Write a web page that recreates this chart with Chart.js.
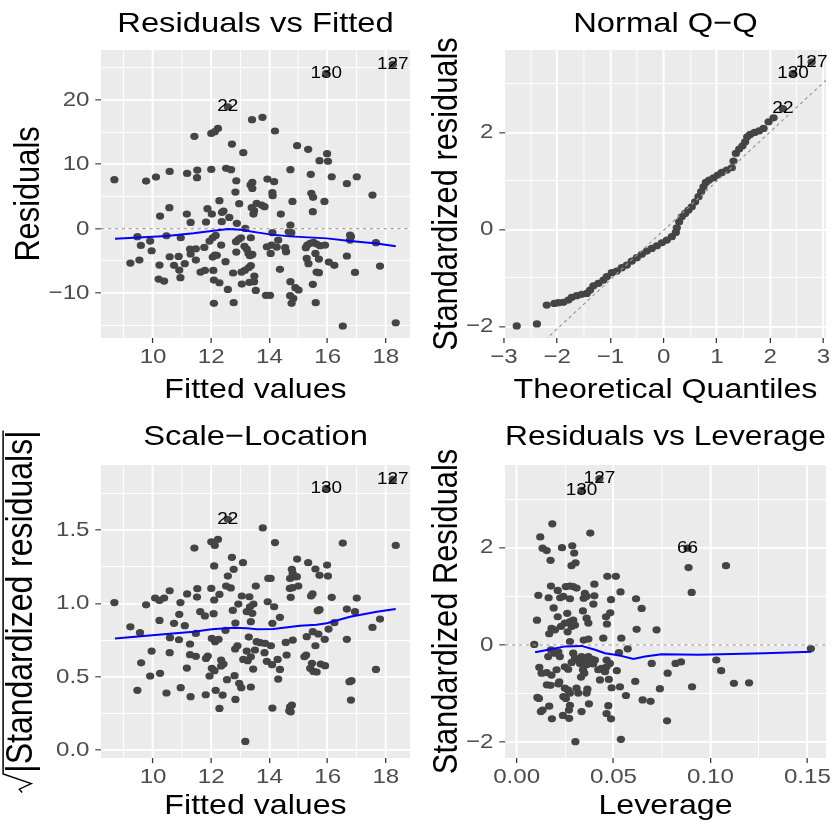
<!DOCTYPE html>
<html>
<head>
<meta charset="utf-8">
<title>Regression diagnostics</title>
<script src="https://cdn.jsdelivr.net/npm/chart.js@4.4.1/dist/chart.umd.min.js"></script>
<style>
  body { margin: 0; background: #fff; }
  #wrap { position: relative; width: 836px; height: 825px; overflow: hidden; }
  canvas { position: absolute; }
</style>
</head>
<body>
<div id="wrap">
  <canvas id="rvf" style="left:0;top:0"></canvas>
  <canvas id="qq" style="left:418px;top:0"></canvas>
  <canvas id="sl" style="left:0;top:412px"></canvas>
  <canvas id="rvl" style="left:418px;top:412px"></canvas>
</div>
<script>
// ---- data ----
// Residuals vs Fitted: [fitted, residual]
const rvfPoints = [
  [8.67,7.61],[9.76,7.40],[10.10,8.02],[10.57,8.90],[11.17,8.59],[11.52,9.11],[11.51,7.92],[12.00,9.21],[12.51,9.37],[12.68,9.16],
  [11.42,14.34],[12.00,14.80],[12.12,15.06],[12.23,15.58],[12.71,13.15],[13.10,11.80],[13.40,16.93],[12.86,7.45],[13.41,7.19],[13.35,6.80],
  [13.41,6.26],[12.83,5.69],[12.96,3.88],[12.28,4.35],[12.42,2.74],[12.37,2.54],[11.87,3.11],[12.02,2.28],[11.16,2.28],[11.29,0.98],
  [11.82,1.04],[10.56,3.26],[10.24,1.97],[12.36,1.09],[12.62,1.76],[12.88,0.83],[13.39,3.27],[13.47,2.80],[13.45,2.28],[13.17,0.05],
  [9.46,-1.24],[9.58,-2.59],[9.90,-1.92],[9.95,-3.42],[9.22,-5.33],[9.53,-4.87],[10.46,-1.09],[10.22,-5.64],[10.57,-4.35],[10.72,-5.69],
  [10.88,-4.30],[10.90,-6.42],[10.94,-7.61],[10.19,-7.82],[10.38,-8.13],[11.09,-5.43],[11.27,-3.16],[11.29,-3.93],[11.47,-3.11],[11.47,-4.87],
  [10.95,-1.40],[11.63,-6.73],[11.78,-6.47],[11.76,-2.90],[11.94,-1.92],[12.05,-1.40],[12.15,-1.04],[12.05,-4.40],[12.19,-4.14],[12.12,-4.09],
  [12.07,-6.47],[12.09,-7.97],[12.28,-8.39],[12.49,-5.12],[12.34,-2.54],[12.09,-11.59],[12.57,-9.42],[12.77,-11.49],[12.75,-6.88],[12.85,-2.02],
  [12.94,-1.66],[13.02,-1.40],[12.86,-3.62],[13.05,-8.59],[13.31,-8.33],[13.36,-1.40],[13.14,-2.74],[13.22,-3.16],[13.28,-3.83],[13.33,-4.19],
  [13.41,-3.99],[13.04,-6.73],[13.15,-6.47],[13.28,-6.06],[13.36,-5.74],[13.53,-9.58],[13.48,-7.35],
  [13.76,17.29],[14.19,15.17],[14.95,12.89],[15.33,12.32],[15.98,11.65],[15.72,10.56],[16.01,10.46],[14.72,9.16],[15.42,8.44],[16.14,8.07],
  [16.66,6.99],[17.00,8.07],[17.54,5.23],[13.93,7.71],[14.16,7.30],[14.10,5.59],[14.11,5.12],[14.79,4.24],[15.44,5.49],[15.50,4.87],
  [15.89,4.24],[15.49,2.64],[14.39,2.28],[13.56,3.93],[13.73,3.67],[13.83,3.42],[14.72,0.57],[14.66,-0.47],
  [14.75,-0.62],[14.10,-0.62],[14.30,-1.76],[13.91,-2.80],[14.07,-2.54],[14.25,-2.85],[14.04,-3.83],[14.54,-2.95],[14.57,-3.57],[14.36,-6.31],
  [13.47,-8.23],[13.88,-10.35],[14.02,-10.35],[14.72,-8.23],[14.89,-9.16],[15.00,-9.52],[14.71,-10.40],[14.76,-11.59],
  [14.82,-10.82],[15.25,-2.95],[15.30,-2.54],[15.40,-2.28],[15.51,-2.12],[15.62,-2.38],[15.74,-2.64],[15.91,-2.54],[15.28,-4.61],[15.34,-5.43],
  [15.58,-3.83],[15.70,-4.71],[15.62,-6.73],[15.70,-6.83],[15.49,-8.64],[15.59,-11.49],[16.04,-5.18],[16.23,-5.69],[16.77,-0.98],[16.77,-1.76],
  [16.80,-1.24],[16.66,-4.24],[16.94,-6.78],[17.66,-2.17],[17.80,-5.80],[16.52,-15.11],[18.34,-14.60],
  [12.57,18.94],[15.95,24.13],[18.24,25.53]
];
const rvfSmooth = [[8.69,-1.55],[10.47,-1.14],[11.39,-0.72],[12.07,-0.31],[12.59,-0.05],[13.00,-0.16],[13.56,-0.57],
  [14.02,-0.88],[14.71,-1.19],[15.97,-1.50],[16.77,-1.92],[17.69,-2.28],[18.34,-2.74]];
const rvfLabels = [['22',12.57,18.94],['130',15.95,24.13],['127',18.24,25.53]];

// Normal Q-Q: [theoretical quantile, standardized residual]
const qqPoints = [
  [-2.76,-1.99],[-2.38,-1.95],[-2.196,-1.560],[-2.052,-1.526],[-1.977,-1.512],[-1.883,-1.505],[-1.789,-1.457],[-1.726,-1.402],
  [-1.632,-1.368],[-1.538,-1.340],[-1.444,-1.320],[-1.382,-1.251],[-1.319,-1.162],[-1.225,-1.113],[-1.131,-1.045],[-1.068,-0.976],
  [-0.974,-0.893],[-0.880,-0.859],[-0.786,-0.790],[-0.692,-0.735],[-0.598,-0.653],[-0.504,-0.584],[-0.410,-0.515],[-0.316,-0.447],
  [-0.222,-0.392],[-0.128,-0.337],[-0.034,-0.275],[0.060,-0.220],[0.154,-0.151],[0.229,-0.062],
  [0.247,0.034],[0.291,0.158],[0.341,0.261],[0.404,0.330],[0.467,0.399],[0.529,0.467],[0.592,0.570],[0.655,0.674],
  [0.705,0.777],[0.749,0.880],[0.793,0.969],[0.855,1.017],[0.937,1.065],[1.018,1.120],[1.093,1.175],[1.187,1.223],
  [1.281,1.271],[1.313,1.409],[1.357,1.567],[1.419,1.656],[1.482,1.725],[1.532,1.808],[1.570,1.911],[1.626,1.959],
  [1.708,2.000],[1.795,2.034],[1.877,2.082],[1.971,2.220],[2.065,2.302],
  [2.24,2.49],[2.43,3.22],[2.78,3.45]
];
const qqRefLine = [[-3.2,-3.27],[3.2,3.23]];
const qqLabels = [['22',2.24,2.49],['130',2.43,3.22],['127',2.78,3.45]];

// Scale-Location: [fitted, sqrt(|standardized residual|)]
const slPoints = [
  [8.67,1.005],[9.22,0.84],[9.55,0.80],[9.76,0.99],[10.07,1.036],[10.22,1.02],[10.38,1.036],[10.57,1.086],[10.94,1.005],[10.90,0.925],
  [10.72,0.864],[10.22,0.884],[11.09,0.848],[11.17,1.064],[11.52,1.10],[11.51,1.043],[11.42,1.377],[12.00,1.42],[12.12,1.395],[12.23,1.436],
  [12.10,1.255],[12.71,1.314],[12.77,1.232],[13.09,1.277],[12.57,1.186],[12.51,1.118],[12.67,1.105],[12.00,1.102],[12.28,1.061],[12.10,1.023],
  [11.62,0.943],[11.78,0.914],[12.08,0.93],[12.93,0.995],[12.74,0.952],[13.05,1.05],[13.31,1.045],[13.53,1.118],[13.45,0.995],[13.33,0.977],
  [13.22,0.943],[13.41,0.932],[13.36,0.875],[12.83,0.866],[12.49,0.816],[11.47,0.795],[10.58,0.766],[10.89,0.752],[11.27,0.723],[12.02,0.761],
  [12.13,0.739],[12.25,0.755],[13.29,0.77],[9.95,0.675],[10.57,0.664],[11.27,0.65],[11.47,0.639],[11.82,0.625],[11.88,0.641],[12.90,0.711],
  [12.82,0.689],[13.22,0.675],[13.50,0.682],[13.36,0.636],[13.10,0.618],[13.25,0.609],[9.59,0.595],[9.90,0.505],[10.24,0.523],[11.16,0.559],
  [12.02,0.557],[12.11,0.541],[12.34,0.614],[12.42,0.586],[12.34,0.573],[11.94,0.505],[12.54,0.48],[12.80,0.507],[12.96,0.455],[13.03,0.425],
  [13.36,0.43],[13.44,0.552],[9.46,0.407],[10.46,0.389],[10.95,0.425],[11.29,0.364],[11.81,0.377],[12.15,0.407],[12.39,0.375],[12.28,0.284],
  [12.83,0.345],[13.17,0.059],
  [13.77,1.514],[14.19,1.414],[14.95,1.302],[14.77,1.232],[14.80,1.205],[14.86,1.182],[14.71,1.170],[14.94,1.182],[14.70,1.102],[14.79,1.107],
  [14.99,1.118],[14.73,1.041],[15.33,1.277],[15.58,1.234],[15.72,1.191],[15.98,1.261],[16.01,1.186],[16.52,1.411],[18.34,1.395],[13.96,1.170],
  [14.04,1.170],[13.94,1.011],[14.16,0.977],[14.36,0.905],[15.43,1.050],[15.48,1.064],[16.14,1.041],[17.00,1.036],[16.66,0.961],[16.94,0.943],
  [15.66,0.950],[15.72,0.957],[16.23,0.868],[16.03,0.825],[17.54,0.836],[17.80,0.893],[15.28,0.773],[15.49,0.807],[15.68,0.791],[15.58,0.711],
  [15.90,0.755],[14.80,0.750],[14.56,0.734],[14.10,0.864],[14.05,0.711],[13.56,0.739],[13.68,0.732],[13.85,0.727],[13.83,0.664],[13.91,0.605],
  [14.09,0.582],[14.28,0.618],[14.36,0.550],[14.59,0.648],[14.30,0.484],[15.20,0.636],[15.26,0.648],[15.40,0.557],[15.51,0.536],[15.62,0.532],
  [15.46,0.591],[15.76,0.586],[15.91,0.575],[16.66,0.755],[17.66,0.550],[16.75,0.466],[16.82,0.473],[16.80,0.341],[14.10,0.286],[14.71,0.295],
  [14.77,0.307],[14.68,0.268],[14.73,0.261],
  [12.57,1.573],[15.95,1.784],[18.24,1.845]
];
const slSmooth = [[8.69,0.761],[10.47,0.791],[11.39,0.807],[12.02,0.823],[12.76,0.834],[13.22,0.830],[13.56,0.823],
  [14.13,0.825],[15.05,0.848],[15.62,0.855],[15.97,0.864],[16.77,0.909],[17.69,0.943],[18.34,0.961]];
const slLabels = [['22',12.57,1.573],['130',15.95,1.784],['127',18.24,1.845]];

// Residuals vs Leverage: [leverage, standardized residual]
const rvlPoints = [
  [0.0184,2.49],[0.0122,2.22],[0.0380,2.30],[0.0134,1.99],[0.0155,1.94],[0.0234,2.00],[0.0287,2.04],[0.0297,1.89],[0.0175,1.74],[0.0304,1.69],
  [0.0283,1.63],[0.0468,1.41],[0.0512,1.41],[0.0401,1.25],[0.0177,1.21],[0.0254,1.20],[0.0275,1.21],[0.0292,1.20],[0.0309,1.17],[0.0212,1.12],
  [0.0112,1.02],[0.0165,0.97],[0.0225,0.97],[0.0241,1.00],[0.0275,0.95],[0.0352,1.06],[0.0361,1.00],[0.0346,0.96],[0.0401,1.01],[0.0536,1.09],
  [0.0487,0.93],[0.0616,0.95],[0.0645,0.75],[0.0396,0.84],[0.0191,0.76],[0.0261,0.65],[0.0212,0.58],[0.0342,0.70],[0.0361,0.55],[0.0370,0.45],
  [0.0483,0.66],[0.0461,0.58],[0.0466,0.43],[0.0105,0.51],[0.0249,0.45],[0.0275,0.48],[0.0292,0.51],[0.0301,0.41],[0.0284,0.38],[0.0263,0.27],
  [0.0180,0.34],[0.0198,0.31],[0.0168,0.23],[0.0229,0.38],[0.0346,0.10],[0.0370,0.12],[0.0447,0.14],[0.0540,0.14],[0.0619,0.32],[0.0722,0.31],
  [0.0091,0.01],[0.0275,0.07],[0.0177,-0.10],[0.0198,-0.17],[0.0163,-0.24],[0.0215,-0.14],[0.0223,-0.24],[0.0292,-0.17],[0.0301,-0.27],[0.0318,-0.31],
  [0.0335,-0.24],[0.0352,-0.31],[0.0370,-0.24],[0.0387,-0.29],[0.0404,-0.31],[0.0284,-0.36],[0.0327,-0.38],[0.0361,-0.41],[0.0395,-0.39],[0.0528,-0.16],
  [0.0573,-0.08],[0.0464,-0.31],[0.0481,-0.38],[0.0464,-0.45],[0.0421,-0.51],[0.0438,-0.48],[0.0456,-0.55],[0.0117,-0.46],[0.0129,-0.58],[0.0155,-0.57],
  [0.0180,-0.62],[0.0206,-0.51],[0.0249,-0.45],[0.0266,-0.50],[0.0342,-0.51],[0.0349,-0.58],[0.0332,-0.66],[0.0517,-0.53],[0.0476,-0.71],[0.0612,-0.75],
  [0.0697,-0.38],[0.0779,-0.58],[0.0220,-0.76],[0.0215,-0.80],[0.0156,-0.82],[0.0175,-0.83],[0.0249,-0.89],[0.0266,-0.93],[0.0275,-0.99],[0.0309,-0.89],
  [0.0318,-0.99],[0.0365,-0.91],[0.0361,-0.99],[0.0430,-0.72],[0.0490,-0.88],[0.0533,-0.86],[0.0739,-0.90],[0.0107,-1.08],[0.0115,-1.10],[0.0241,-1.06],
  [0.0254,-1.10],[0.0564,-1.04],[0.0650,-1.13],[0.0691,-1.16],[0.0134,-1.34],[0.0125,-1.37],[0.0168,-1.26],[0.0275,-1.24],[0.0270,-1.34],[0.0373,-1.21],
  [0.0335,-1.37],[0.0473,-1.25],[0.0464,-1.41],[0.0487,-1.52],[0.0182,-1.52],[0.0239,-1.45],[0.0271,-1.51],[0.0776,-1.56],[0.0303,-1.99],[0.0538,-1.94],
  [0.0887,1.59],[0.1080,1.63],[0.0903,1.08],[0.1518,-0.075],[0.0820,-0.38],[0.0848,-0.35],[0.1030,-0.31],[0.1055,-0.53],[0.1121,-0.79],[0.1199,-0.78],
  [0.0905,-0.86],
  [0.0335,3.18],[0.0427,3.42],[0.0882,1.99]
];
const rvlSmooth = [[0.0095,-0.15],[0.0163,-0.10],[0.0250,-0.03],[0.0335,-0.02],[0.0404,-0.10],[0.0456,-0.17],[0.0524,-0.21],
  [0.0602,-0.29],[0.0662,-0.24],[0.0748,-0.19],[0.0940,-0.20],[0.1280,-0.17],[0.1520,-0.14]];
const rvlLabels = [['130',0.0335,3.18],['127',0.0427,3.42],['66',0.0882,1.99]];

// tick values
const fittedMajor = [10, 12, 14, 16, 18], fittedMinor = [9, 11, 13, 15, 17];
const residMajor = [-10, 0, 10, 20], residMinor = [-15, -5, 5, 15, 25];
const qqXMajor = [-3, -2, -1, 0, 1, 2, 3], qqXMinor = [-2.5, -1.5, -0.5, 0.5, 1.5, 2.5];
const stdMajor = [-2, 0, 2], stdMinor = [-1, 1, 3];
const sqrtMajor = [0, 0.5, 1, 1.5], sqrtMinor = [0.25, 0.75, 1.25, 1.75];
const levMajor = [0, 0.05, 0.1, 0.15], levMinor = [0.025, 0.075, 0.125];

// ---- drawing ----
const S = 418 / 364;   // reference is widened horizontally, so draw narrow and stretch
const LW = 364;
const FONT = '"Liberation Sans", Arial, Helvetica, sans-serif';
const INK = '#444444';
const YT = 30.8;       // y axis title size
Chart.defaults.font.family = FONT;
Chart.defaults.color = '#4D4D4D';

const minus = s => String(s).replace('-', '\u2212');

const panelBg = {
  id: 'panelBg',
  beforeDraw(chart) {
    const {ctx, chartArea: a} = chart;
    ctx.setTransform(S, 0, 0, 1, 0, 0);
    ctx.save();
    ctx.fillStyle = '#EBEBEB';
    ctx.fillRect(a.left, a.top, a.right - a.left, a.bottom - a.top);
    ctx.restore();
  }
};

function obsLabels(list) {
  return {
    id: 'obsLabels',
    afterDatasetsDraw(chart) {
      const {ctx, scales: {x, y}} = chart;
      ctx.save();
      ctx.font = '16.5px ' + FONT;
      ctx.fillStyle = '#000000';
      ctx.textAlign = 'center';
      ctx.textBaseline = 'middle';
      list.forEach(([t, vx, vy]) => ctx.fillText(t, x.getPixelForValue(vx), y.getPixelForValue(vy)));
      ctx.restore();
    }
  };
}

function axis(o) {
  const horiz = o.pos === 'bottom';
  const ticks = o.major.map(v => ({value: v, isMajor: true}))
    .concat(o.minor.map(v => ({value: v, isMajor: false})))
    .sort((a, b) => a.value - b.value);
  const tsize = horiz ? 28 : YT;
  return {
    type: 'linear',
    position: o.pos,
    min: o.min,
    max: o.max,
    afterBuildTicks: s => { s.ticks = ticks.map(t => Object.assign({}, t)); },
    afterFit: s => {
      if (horiz) { s.height = o.size; s.paddingLeft = 0; s.paddingRight = 0; }
      else { s.width = o.size; s.paddingTop = 0; s.paddingBottom = 0; }
    },
    ticks: {
      autoSkip: false, maxRotation: 0, minRotation: 0,
      padding: horiz ? 1.5 : 5,
      color: '#4D4D4D',
      font: {size: 21},
      callback: (v, i, tk) => tk[i].isMajor ? o.fmt(v) : ''
    },
    grid: {
      color: '#FFFFFF',
      lineWidth: c => (c.tick && c.tick.isMajor ? 1.7 : 0.85),
      tickLength: 5,
      tickWidth: 1.1,
      tickColor: c => (c.tick && c.tick.isMajor ? '#333333' : 'rgba(0,0,0,0)')
    },
    border: {display: false},
    title: {
      display: o.title !== '', text: o.title, color: '#000000',
      font: {size: tsize, lineHeight: 1},
      padding: horiz ? {top: 0, bottom: o.tpad} : {top: 25.3 - tsize / 2, bottom: 0}
    }
  };
}

const pts = list => list.map(([x, y]) => ({x, y}));
const pointSet = list => ({data: pts(list), backgroundColor: INK, borderWidth: 0, pointRadius: 3.6, order: 3});
const smoothSet = list => ({data: pts(list), showLine: true, borderColor: '#0000FF', borderWidth: 2, pointRadius: 0, order: 0});
const dashSet = list => ({data: pts(list), showLine: true, borderColor: '#999999', borderWidth: 1.1, borderDash: [3, 3], pointRadius: 0, order: 1});

function panel(id, box, title, datasets, xAx, yAx, extra) {
  const canvas = document.getElementById(id);
  canvas.width = LW;
  canvas.height = box.h;
  const chart = new Chart(canvas, {
    type: 'scatter',
    data: {datasets},
    options: {
      responsive: false, animation: false, events: [], devicePixelRatio: 1,
      layout: {padding: {left: 0, top: 0, bottom: 0, right: LW - box.r / S}},
      scales: {
        x: axis(Object.assign({pos: 'bottom', size: box.h - box.b, tpad: box.xt}, xAx)),
        y: axis(Object.assign({pos: 'left', size: box.l / S}, yAx))
      },
      plugins: {
        legend: {display: false},
        tooltip: {enabled: false},
        title: {
          display: true, text: title, fullSize: false, color: '#000000',
          font: {size: 28.5, weight: 'normal', lineHeight: 1},
          padding: {top: box.tm - 14.25, bottom: box.t - box.tm - 14.25}
        }
      }
    },
    plugins: [panelBg].concat(extra || [])
  });
  canvas.width = 418;
  canvas.style.width = '418px';
  canvas.style.height = box.h + 'px';
  chart.draw();
  return chart;
}

// y title of the Scale-Location panel: square root sign over |Standardized residuals|
const sqrtTitle = {
  id: 'sqrtTitle',
  afterDraw(chart) {
    const {ctx, chartArea: a} = chart;
    const F = 32;
    const text = '|Standardized residuals|';
    ctx.save();
    ctx.font = F + 'px ' + FONT;
    const w = ctx.measureText(text).width;
    const R = 0.62 * F;
    const start = (a.top + a.bottom) / 2 + (w + R) / 2;
    ctx.translate(18.7, start);
    ctx.rotate(-Math.PI / 2);
    ctx.fillStyle = '#000000';
    ctx.textBaseline = 'middle';
    ctx.textAlign = 'left';
    ctx.fillText(text, R, 0);
    ctx.strokeStyle = '#000000';
    ctx.lineWidth = 1.3;
    ctx.lineJoin = 'miter';
    ctx.beginPath();
    ctx.moveTo(0, 0.02 * F);
    ctx.lineTo(0.1 * F, -0.06 * F);
    ctx.lineTo(0.28 * F, 0.27 * F);
    ctx.lineTo(R - 0.04 * F, -0.5 * F);
    ctx.lineTo(R + w, -0.5 * F);
    ctx.stroke();
    ctx.restore();
  }
};

const topBox = {h: 412, l: 101, r: 410, t: 50, b: 338, tm: 24, xt: 8};
const topBox2 = {h: 412, l: 87, r: 408, t: 50, b: 338, tm: 24, xt: 8};
const botBox = {h: 413, l: 101, r: 410, t: 53, b: 346, tm: 25, xt: 5};
const botBox2 = {h: 413, l: 87, r: 408, t: 53, b: 346, tm: 25, xt: 5};

panel('rvf', topBox, 'Residuals vs Fitted',
  [smoothSet(rvfSmooth), dashSet([[8.21, 0], [18.83, 0]]), pointSet(rvfPoints)],
  {min: 8.21, max: 18.83, major: fittedMajor, minor: fittedMinor, fmt: v => String(v), title: 'Fitted values'},
  {min: -16.97, max: 27.75, major: residMajor, minor: residMinor, fmt: minus, title: 'Residuals'},
  [obsLabels(rvfLabels)]);

panel('qq', topBox2, 'Normal Q\u2212Q',
  [dashSet(qqRefLine), pointSet(qqPoints)],
  {min: -2.98, max: 3.05, major: qqXMajor, minor: qqXMinor, fmt: minus, title: 'Theoretical Quantiles'},
  {min: -2.24, max: 3.70, major: stdMajor, minor: stdMinor, fmt: minus, title: 'Standardized residuals'},
  [obsLabels(qqLabels)]);

panel('sl', botBox, 'Scale\u2212Location',
  [smoothSet(slSmooth), pointSet(slPoints)],
  {min: 8.21, max: 18.83, major: fittedMajor, minor: fittedMinor, fmt: v => String(v), title: 'Fitted values'},
  {min: -0.054, max: 1.943, major: sqrtMajor, minor: sqrtMinor, fmt: v => v.toFixed(1), title: ''},
  [obsLabels(slLabels), sqrtTitle]);

panel('rvl', botBox2, 'Residuals vs Leverage',
  [smoothSet(rvlSmooth), dashSet([[-0.006, 0], [0.1596, 0]]), pointSet(rvlPoints)],
  {min: -0.006, max: 0.1596, major: levMajor, minor: levMinor, fmt: v => v.toFixed(2), title: 'Leverage'},
  {min: -2.325, max: 3.70, major: stdMajor, minor: stdMinor, fmt: minus, title: 'Standardized Residuals'},
  [obsLabels(rvlLabels)]);
</script>
</body>
</html>
